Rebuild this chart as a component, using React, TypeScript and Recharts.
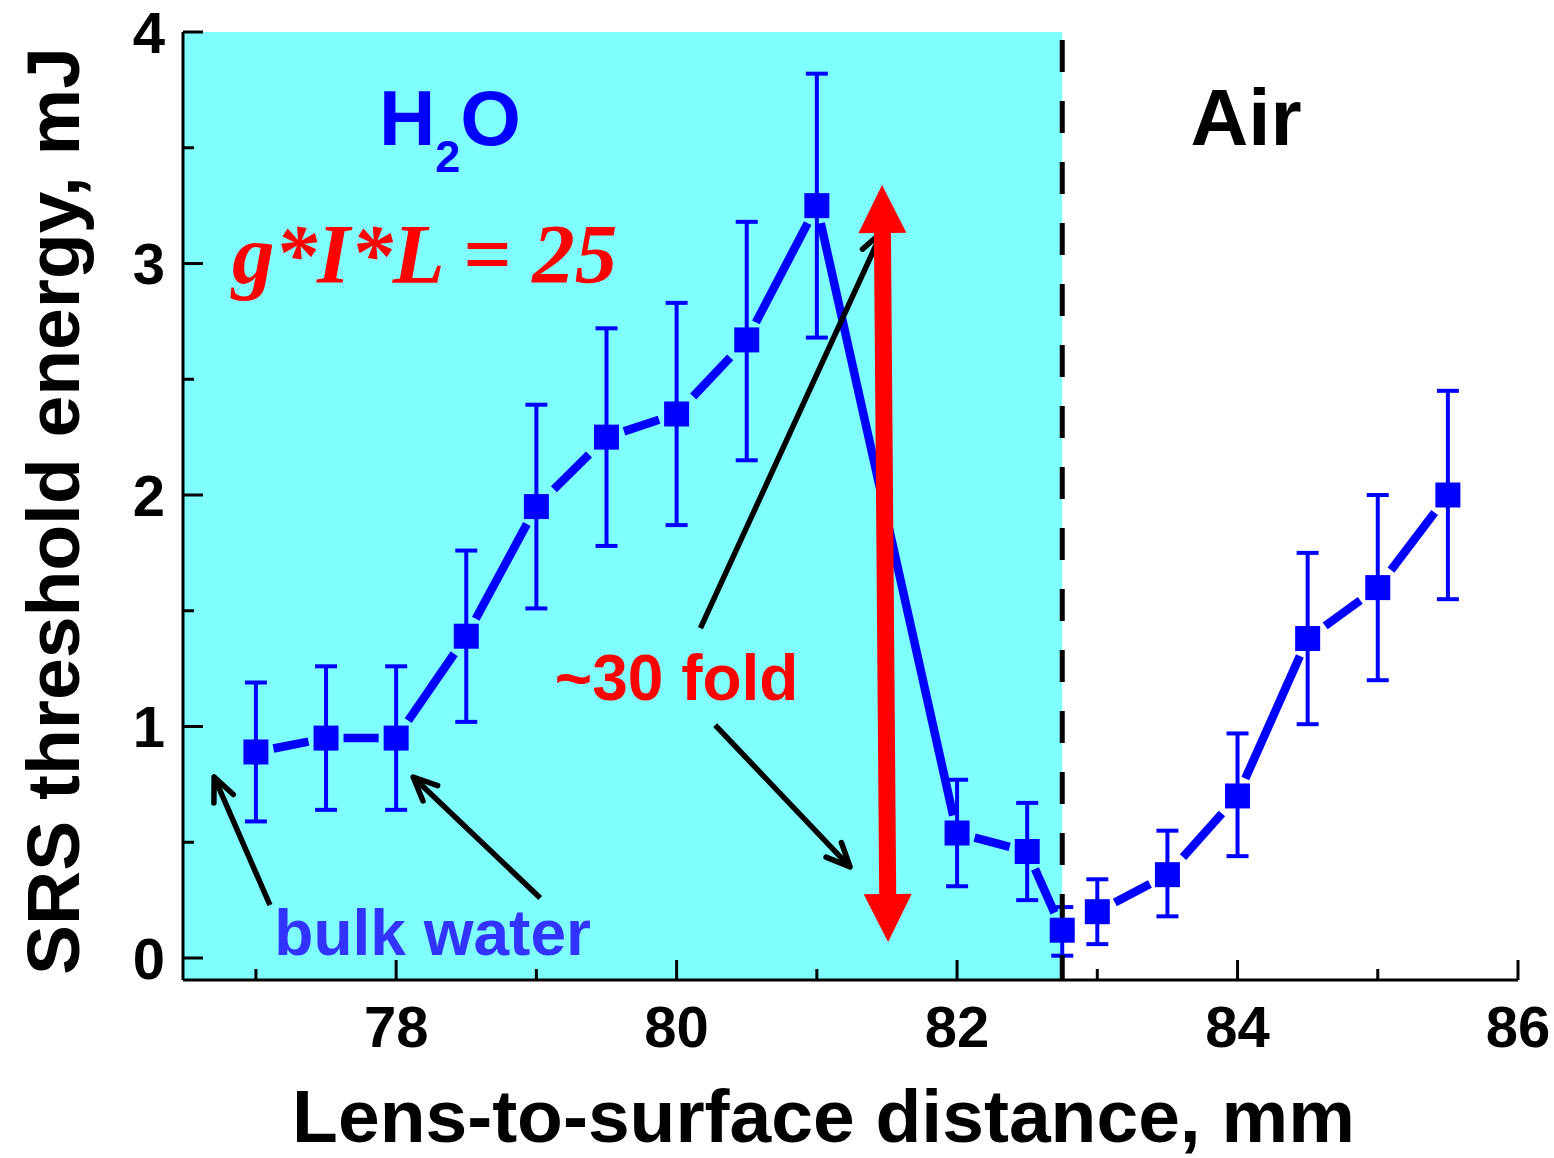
import React from "react";
import {
  ComposedChart,
  Line,
  XAxis,
  YAxis,
  ErrorBar,
  ReferenceArea,
  ReferenceLine,
  ReferenceDot,
} from "recharts";

// SRS threshold vs lens-to-surface distance
const distance = [77, 77.5, 78, 78.5, 79, 79.5, 80, 80.5, 81, 82, 82.5, 82.75, 83, 83.5, 84, 84.5, 85, 85.5];
const threshold = [0.89, 0.95, 0.95, 1.39, 1.95, 2.25, 2.35, 2.67, 3.25, 0.54, 0.46, 0.12, 0.2, 0.36, 0.7, 1.38, 1.6, 2.0];
const errLow = [0.59, 0.64, 0.64, 1.02, 1.51, 1.78, 1.87, 2.15, 2.68, 0.31, 0.25, 0.01, 0.06, 0.18, 0.44, 1.01, 1.2, 1.55];
const errHigh = [1.19, 1.26, 1.26, 1.76, 2.39, 2.72, 2.83, 3.18, 3.82, 0.77, 0.67, 0.22, 0.34, 0.55, 0.97, 1.75, 2.0, 2.45];

const xTicks = [77, 78, 79, 80, 81, 82, 83, 84, 85, 86];
const yTicks = [0, 0.5, 1, 1.5, 2, 2.5, 3, 3.5, 4];
const xDomain: [number, number] = [76.48, 86];
const yDomain: [number, number] = [-0.095, 4];
const surface = 82.75; // water / air boundary

// annotation arrows: [x, y] in data units
const pointerTails = [[80.17, 1.425], [80.275, 1.006], [77.1, 0.229], [79.027, 0.259]];
const pointerTips = [[81.465, 3.136], [81.237, 0.393], [76.702, 0.782], [78.121, 0.782]];
const foldArrow = [[81.508, 0.069], [81.465, 3.339]];

const data = distance.map((x, i) => ({
  x,
  y: threshold[i],
  err: [threshold[i] - errLow[i], errHigh[i] - threshold[i]],
}));

const SANS = "'Liberation Sans', Arial, Helvetica, sans-serif";
const SERIF = "'Liberation Serif', 'Times New Roman', serif";
const WATER = "#80ffff";
const BLUE = "#0000ff";
const RED = "#ff0000";
const MARK = 12.5; // half marker size, px
const GAP = 5; // gap between connecting line and marker, px

const BottomTick = ({ x, y, payload }: any) => {
  const major = payload.value % 2 === 0;
  return (
    <g>
      <line x1={x} x2={x} y1={y} y2={y - (major ? 20 : 11)} stroke="#000" strokeWidth={3} />
      {major && (
        <text x={x} y={y + 67} textAnchor="middle" fontFamily={SANS} fontWeight="bold" fontSize={58} fill="#000">
          {payload.value}
        </text>
      )}
    </g>
  );
};

const TopTick = ({ x, y, payload }: any) => {
  const major = payload.value % 2 === 0;
  return <line x1={x} x2={x} y1={y} y2={y + (major ? 20 : 11)} stroke="#000" strokeWidth={3} />;
};

const LeftTick = ({ x, y, payload }: any) => {
  const major = Number.isInteger(payload.value);
  return (
    <g>
      <line x1={x} x2={x + (major ? 20 : 11)} y1={y} y2={y} stroke="#000" strokeWidth={3} />
      {major && (
        <text x={x - 18} y={y} dy="0.36em" textAnchor="end" fontFamily={SANS} fontWeight="bold" fontSize={58} fill="#000">
          {payload.value}
        </text>
      )}
    </g>
  );
};

const RightTick = ({ x, y, payload }: any) => {
  const major = Number.isInteger(payload.value);
  return <line x1={x} x2={x - (major ? 20 : 11)} y1={y} y2={y} stroke="#000" strokeWidth={3} />;
};

// filled square marker
const Square = (props: any) => {
  const { cx, cy, index } = props;
  if (cx == null || cy == null) return <g key={`sq${index}`} />;
  return <rect key={`sq${index}`} x={cx - MARK} y={cy - MARK} width={2 * MARK} height={2 * MARK} fill={BLUE} />;
};

// connecting segment that stops short of both markers (Origin style)
const GappedLink = ({ x1, y1, x2, y2 }: any) => {
  const L = Math.hypot(x2 - x1, y2 - y1);
  if (!L) return <g />;
  const ux = (x2 - x1) / L;
  const uy = (y2 - y1) / L;
  const t = (MARK + GAP) / Math.max(Math.abs(ux), Math.abs(uy));
  if (L <= 2 * t) return <g />;
  return (
    <line
      x1={x1 + ux * t}
      y1={y1 + uy * t}
      x2={x2 - ux * t}
      y2={y2 - uy * t}
      stroke={BLUE}
      strokeWidth={8.5}
    />
  );
};

const Pointer = ({ x1, y1, x2, y2 }: any) => {
  const ang = Math.atan2(y2 - y1, x2 - x1);
  const len = 26;
  const spread = 0.42;
  const ax = x2 - len * Math.cos(ang - spread);
  const ay = y2 - len * Math.sin(ang - spread);
  const bx = x2 - len * Math.cos(ang + spread);
  const by = y2 - len * Math.sin(ang + spread);
  return (
    <g>
      <line x1={x1} y1={y1} x2={x2} y2={y2} stroke="#000" strokeWidth={5.5} />
      <polyline
        points={`${ax},${ay} ${x2},${y2} ${bx},${by}`}
        fill="none"
        stroke="#000"
        strokeWidth={5.5}
        strokeLinecap="round"
        strokeLinejoin="round"
      />
    </g>
  );
};

const FoldArrow = ({ x1, y1, x2, y2 }: any) => {
  const L = Math.hypot(x2 - x1, y2 - y1) || 1;
  const ux = (x2 - x1) / L;
  const uy = (y2 - y1) / L;
  const nx = -uy;
  const ny = ux;
  const head = 48;
  const hw = 24;
  const sw = 8.5;
  const p = (bx: number, by: number, u: number, n: number) =>
    `${bx + ux * u + nx * n},${by + uy * u + ny * n}`;
  const pts = [
    p(x1, y1, 0, 0),
    p(x1, y1, head, hw),
    p(x1, y1, head, sw),
    p(x2, y2, -head, sw),
    p(x2, y2, -head, hw),
    p(x2, y2, 0, 0),
    p(x2, y2, -head, -hw),
    p(x2, y2, -head, -sw),
    p(x1, y1, head, -sw),
    p(x1, y1, head, -hw),
  ].join(" ");
  return <polygon points={pts} fill={RED} />;
};

const textAt = (render: (cx: number, cy: number) => React.ReactElement) => (props: any) =>
  render(props.cx, props.cy);

const XTitle = (props: any) => {
  const vb = props.viewBox || { x: 183, y: 980, width: 1335 };
  return (
    <text
      x={vb.x + vb.width / 2 - 27}
      y={vb.y + 162}
      textAnchor="middle"
      fontFamily={SANS}
      fontWeight="bold"
      fontSize={75}
      fill="#000"
    >
      Lens-to-surface distance, mm
    </text>
  );
};

const YTitle = (props: any) => {
  const vb = props.viewBox || { x: 0, y: 32, height: 948 };
  const cx = vb.x + 79;
  const cy = vb.y + vb.height / 2 + 5;
  return (
    <text
      x={cx}
      y={cy}
      transform={`rotate(-90, ${cx}, ${cy})`}
      textAnchor="middle"
      fontFamily={SANS}
      fontWeight="bold"
      fontSize={75}
      fill="#000"
    >
      SRS threshold energy, mJ
    </text>
  );
};

export default function App() {
  return (
    <div style={{ position: "absolute", left: 0, top: 0, background: "#fff" }}>
      <ComposedChart width={1554} height={1158} data={data} margin={{ top: 32, right: 36, bottom: 0, left: 0 }}>
        <ReferenceArea
          x1={xDomain[0]}
          x2={surface}
          y1={yDomain[0]}
          y2={yDomain[1]}
          fill={WATER}
          fillOpacity={1}
          stroke="none"
        />

        {distance.slice(1).map((x, i) => (
          <ReferenceLine
            key={`link${i}`}
            segment={[
              { x: distance[i], y: threshold[i] },
              { x, y: threshold[i + 1] },
            ]}
            shape={GappedLink}
          />
        ))}

        <Line dataKey="y" stroke="none" dot={Square} activeDot={false} isAnimationActive={false}>
          <ErrorBar dataKey="err" direction="y" width={11} strokeWidth={4} stroke={BLUE} isAnimationActive={false} />
        </Line>

        <ReferenceLine x={surface} stroke="#000" strokeWidth={5} strokeDasharray="32 29" strokeDashoffset={7} />

        {pointerTails.map((t, i) => (
          <ReferenceLine
            key={`ptr${i}`}
            segment={[
              { x: t[0], y: t[1] },
              { x: pointerTips[i][0], y: pointerTips[i][1] },
            ]}
            shape={Pointer}
          />
        ))}
        <ReferenceLine
          segment={[
            { x: foldArrow[0][0], y: foldArrow[0][1] },
            { x: foldArrow[1][0], y: foldArrow[1][1] },
          ]}
          shape={FoldArrow}
        />

        <ReferenceDot
          x={78.384}
          y={3.512}
          r={0}
          shape={textAt((cx, cy) => (
            <text x={cx} y={cy} textAnchor="middle" fontFamily={SANS} fontWeight="bold" fontSize={78} fill={BLUE}>
              H
              <tspan fontSize={45} dy={27}>
                2
              </tspan>
              <tspan dy={-27}>O</tspan>
            </text>
          ))}
        />
        <ReferenceDot
          x={84.061}
          y={3.512}
          r={0}
          shape={textAt((cx, cy) => (
            <text x={cx} y={cy} textAnchor="middle" fontFamily={SANS} fontWeight="bold" fontSize={80} fill="#000">
              Air
            </text>
          ))}
        />
        <ReferenceDot
          x={76.83}
          y={2.916}
          r={0}
          shape={textAt((cx, cy) => (
            <text
              x={cx}
              y={cy}
              textAnchor="start"
              fontFamily={SERIF}
              fontWeight="bold"
              fontStyle="italic"
              fontSize={85}
              fill={RED}
            >
              g*I*L = 25
            </text>
          ))}
        />
        <ReferenceDot
          x={80.0}
          y={1.114}
          r={0}
          shape={textAt((cx, cy) => (
            <text x={cx} y={cy} textAnchor="middle" fontFamily={SANS} fontWeight="bold" fontSize={64} fill={RED}>
              ~30 fold
            </text>
          ))}
        />
        <ReferenceDot
          x={78.26}
          y={0.013}
          r={0}
          shape={textAt((cx, cy) => (
            <text x={cx} y={cy} textAnchor="middle" fontFamily={SANS} fontWeight="bold" fontSize={64} fill="#3333ff">
              bulk water
            </text>
          ))}
        />

        <XAxis
          dataKey="x"
          type="number"
          domain={xDomain}
          ticks={xTicks}
          interval={0}
          allowDataOverflow
          height={178}
          tickSize={0}
          tickMargin={0}
          tickLine={false}
          tick={BottomTick}
          axisLine={{ stroke: "#000", strokeWidth: 3 }}
          label={XTitle}
        />
        <XAxis
          xAxisId="top"
          orientation="top"
          dataKey="x"
          type="number"
          domain={xDomain}
          ticks={xTicks}
          interval={0}
          allowDataOverflow
          height={0}
          tickSize={0}
          tickMargin={0}
          tickLine={false}
          tick={TopTick}
          axisLine={{ stroke: "#000", strokeWidth: 3 }}
        />
        <YAxis
          type="number"
          domain={yDomain}
          ticks={yTicks}
          interval={0}
          allowDataOverflow
          width={183}
          tickSize={0}
          tickMargin={0}
          tickLine={false}
          tick={LeftTick}
          axisLine={{ stroke: "#000", strokeWidth: 3 }}
          label={YTitle}
        />
        <YAxis
          yAxisId="right"
          orientation="right"
          type="number"
          domain={yDomain}
          ticks={yTicks}
          interval={0}
          allowDataOverflow
          width={0}
          tickSize={0}
          tickMargin={0}
          tickLine={false}
          tick={RightTick}
          axisLine={{ stroke: "#000", strokeWidth: 3 }}
        />
      </ComposedChart>
    </div>
  );
}
